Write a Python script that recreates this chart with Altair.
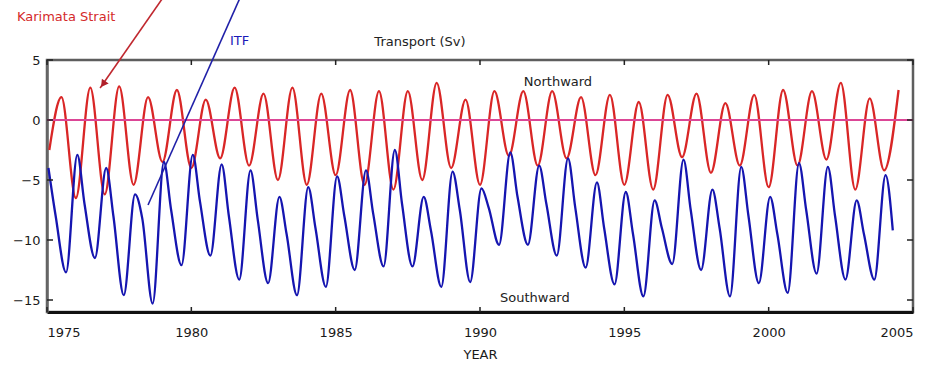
import altair as alt
import pandas as pd

# ---------------- data ----------------
years = list(range(1975, 2005))

# Karimata Strait (red): start value, January troughs (1976..2004), July peaks (1975..2004)
red_start = -2.5
red_troughs = [-6.5, -6.2, -5.4, -3.5, -4.0, -3.2, -3.8, -5.0, -5.4, -4.6,
               -5.4, -5.8, -5.0, -4.0, -5.4, -3.0, -3.8, -3.2, -4.6, -5.4,
               -5.8, -3.1, -4.4, -3.8, -5.6, -3.8, -3.3, -5.8, -4.2]
red_peaks = [1.9, 2.7, 2.8, 1.9, 2.5, 1.7, 2.7, 2.2, 2.7, 2.2,
             2.5, 2.4, 2.4, 3.1, 1.7, 2.4, 2.4, 2.4, 1.9, 2.1,
             1.5, 2.1, 2.2, 1.4, 2.1, 2.5, 2.4, 3.1, 1.8, 2.5]

# ITF (blue): January peaks, spring shoulders, autumn troughs
blue_peaks = [-4.0, -2.9, -4.0, -6.2, -3.5, -2.9, -3.7, -4.2, -6.4, -5.6,
              -4.7, -4.2, -2.5, -6.4, -4.3, -5.7, -2.7, -3.8, -3.2, -5.2,
              -6.0, -6.7, -3.3, -5.8, -3.9, -6.4, -3.6, -3.9, -6.7, -4.6]
blue_shoulders = [-8.0, -7.0, -8.0, -8.2, -7.5, -6.8, -8.0, -8.3, -9.5, -9.0,
                  -8.0, -7.8, -7.0, -9.2, -7.5, -7.3, -6.4, -7.0, -7.3, -9.0,
                  -9.5, -9.0, -7.5, -9.0, -8.0, -9.5, -7.5, -8.0, -9.5, -9.2]
blue_troughs = [-12.7, -11.5, -14.6, -15.3, -12.1, -11.3, -13.3, -13.6, -14.6, -13.9,
                -12.5, -12.2, -12.2, -13.9, -13.5, -10.4, -10.4, -11.3, -12.3, -13.7,
                -14.7, -12.0, -12.5, -14.7, -13.6, -14.4, -12.8, -13.3, -13.3]

x_ticks = [1975, 1980, 1985, 1990, 1995, 2000, 2005]
y_ticks = [5, 0, -5, -10, -15]

# annotation anchor points (data units)
red_arrow_year = [1979.02, 1976.84]
red_arrow_val = [10.2, 2.67]
red_head_year = [1976.97]
red_head_val = [3.08]
blue_arrow_year = [1981.69, 1978.50]
blue_arrow_val = [10.2, -7.08]

label_text = ["Karimata Strait", "ITF", "Transport (Sv)", "Northward", "Southward"]
label_year = [1973.96, 1981.34, 1987.92, 1992.70, 1991.90]
label_val = [8.58, 6.58, 6.5, 3.17, -14.83]
label_color = ["#d42a2a", "#1a1ab8", "#222222", "#222222", "#222222"]
label_align = ["left", "left", "center", "center", "center"]

# ---------------- build tables ----------------
red_rows = [(1975.08, red_start)]
for i, y in enumerate(years):
    if i > 0:
        red_rows.append((y + 0.0, red_troughs[i - 1]))
    red_rows.append((y + 0.5, red_peaks[i]))
red_df = pd.DataFrame(red_rows, columns=["year", "val"])

blue_rows = []
for i, y in enumerate(years):
    blue_rows.append((y + 0.05, blue_peaks[i]))
    blue_rows.append((y + 0.3, blue_shoulders[i]))
    if i < len(blue_troughs):
        blue_rows.append((y + 0.66, blue_troughs[i]))
blue_df = pd.DataFrame(blue_rows, columns=["year", "val"])

W, H = 866, 252
xs = alt.Scale(domain=[1975, 2005], nice=False, zero=False)
ys = alt.Scale(domain=[-16, 5], nice=False, zero=False)
FONT = "DejaVu Sans"

x_enc = alt.X("year:Q", scale=xs,
              axis=alt.Axis(values=x_ticks, format="d", ticks=False, grid=False,
                            title="YEAR", labelPadding=14, titlePadding=9,
                            domain=True, domainColor="#111111", domainWidth=3))
y_enc = alt.Y("val:Q", scale=ys,
              axis=alt.Axis(values=y_ticks, ticks=False, grid=False, title=None,
                            labelPadding=7, domain=True, domainColor="#666666",
                            domainWidth=2.5))

red = alt.Chart(red_df).mark_line(color="#d92626", strokeWidth=2.3,
                                  interpolate="monotone").encode(x=x_enc, y=y_enc)
blue = alt.Chart(blue_df).mark_line(color="#1515b0", strokeWidth=2.3,
                                    interpolate="monotone").encode(x="year:Q", y="val:Q")
zero = alt.Chart(pd.DataFrame({"val": [0]})).mark_rule(
    color="#dc4696", strokeWidth=1.8).encode(y="val:Q")

# inward tick marks
xt = pd.DataFrame({"year": x_ticks})
yt = pd.DataFrame({"val": y_ticks})
tick_style = dict(color="#222222", strokeWidth=1.5)
xt_bot = alt.Chart(xt).mark_rule(**tick_style).encode(
    x="year:Q", y=alt.value(H), y2=alt.value(H - 5))
xt_top = alt.Chart(xt).mark_rule(**tick_style).encode(
    x="year:Q", y=alt.value(0), y2=alt.value(5))
yt_left = alt.Chart(yt).mark_rule(**tick_style).encode(
    y="val:Q", x=alt.value(0), x2=alt.value(6))
yt_right = alt.Chart(yt).mark_rule(**tick_style).encode(
    y="val:Q", x=alt.value(W), x2=alt.value(W - 6))

red_arrow = alt.Chart(pd.DataFrame({"year": red_arrow_year, "val": red_arrow_val})).mark_line(
    color="#c0282f", strokeWidth=1.6).encode(x="year:Q", y="val:Q")
red_head = alt.Chart(pd.DataFrame({"year": red_head_year, "val": red_head_val})).mark_point(
    shape="triangle", angle=215.6, size=70, filled=True, color="#b0202a", opacity=1
).encode(x="year:Q", y="val:Q")
blue_arrow = alt.Chart(pd.DataFrame({"year": blue_arrow_year, "val": blue_arrow_val})).mark_line(
    color="#2020a8", strokeWidth=1.6).encode(x="year:Q", y="val:Q")

labels_df = pd.DataFrame({"t": label_text, "year": label_year, "val": label_val,
                          "c": label_color, "a": label_align})
text_layers = []
for a in ["left", "center"]:
    text_layers.append(
        alt.Chart(labels_df[labels_df["a"] == a]).mark_text(
            align=a, baseline="middle", font=FONT, fontSize=13
        ).encode(x="year:Q", y="val:Q", text="t:N",
                 color=alt.Color("c:N", scale=None))
    )

chart = alt.layer(
    red, zero, blue, xt_bot, xt_top, yt_left, yt_right,
    red_arrow, red_head, blue_arrow, *text_layers
).properties(
    width=W, height=H,
    autosize=alt.AutoSizeParams(type="none"),
    padding={"left": 47, "top": 60, "right": 28, "bottom": 56},
    background="white",
).configure_view(
    stroke="#5e5e5e", strokeWidth=2.5
).configure_axis(
    labelFont=FONT, labelFontSize=13, labelColor="#1a1a1a",
    titleFont=FONT, titleFontSize=13, titleFontWeight="normal", titleColor="#1a1a1a",
)

chart.save("out.html", embed_options={"renderer": "svg", "actions": False})
